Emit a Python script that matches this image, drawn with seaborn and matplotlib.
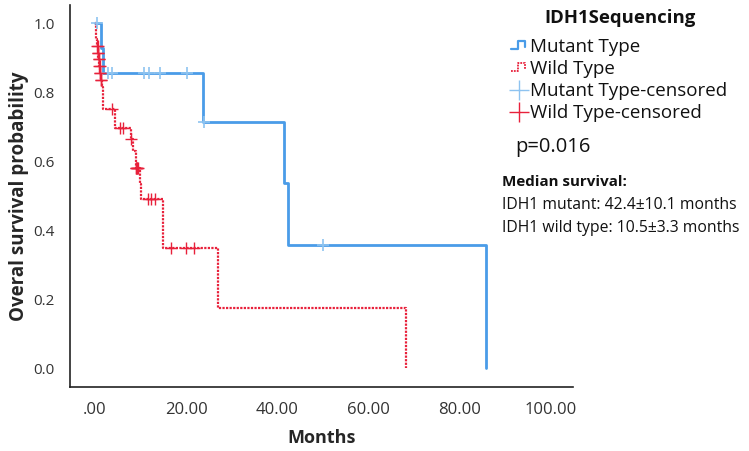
import numpy as np
import pandas as pd
import matplotlib
matplotlib.use("Agg")
import matplotlib.pyplot as plt
import seaborn as sns
from matplotlib.legend_handler import HandlerBase
from matplotlib.lines import Line2D

# ---------------- data ----------------
# Kaplan-Meier step curves (time in months, survival after the step)
mut_time = [0.0, 1.3, 1.8, 23.8, 41.6, 42.3, 85.8]
mut_surv = [1.0, 0.929, 0.857, 0.714, 0.536, 0.357, 0.0]
mut_cens = [0.4, 2.8, 3.7, 10.8, 11.9, 14.3, 20.1, 23.9, 50.0]

wt_time = [0.0, 0.15, 0.3, 0.45, 0.6, 0.75, 0.9, 1.05, 1.25, 1.45, 1.65, 1.85,
           4.4, 7.8, 8.3, 8.9, 9.8, 10.2, 14.9, 27.1, 68.4]
wt_surv = [1.0, 0.975, 0.955, 0.935, 0.915, 0.895, 0.875, 0.855, 0.835, 0.815,
           0.78, 0.75, 0.695, 0.665, 0.63, 0.58, 0.535, 0.49, 0.347, 0.175, 0.0]
wt_cens = [0.5, 0.55, 0.65, 0.7, 0.8, 0.85, 0.95, 1.0, 1.1, 1.2, 1.3, 1.4,
           3.7, 5.5, 6.2, 7.9, 9.0, 9.1, 9.2, 9.3, 9.4,
           11.6, 12.3, 13.2, 16.7, 19.9, 21.8]

x_ticks = [0, 20, 40, 60, 80, 100]
x_tick_labels = [".00", "20.00", "40.00", "60.00", "80.00", "100.00"]
y_ticks = [0.0, 0.2, 0.4, 0.6, 0.8, 1.0]
y_tick_labels = ["0.0", "0.2", "0.4", "0.6", "0.8", "1.0"]

legend_title = "IDH1Sequencing"
labels = ["Mutant Type", "Wild Type", "Mutant Type-censored", "Wild Type-censored"]
p_text = "p=0.016"
median_title = "Median survival:"
median_lines = ["IDH1 mutant: 42.4\u00b110.1 months", "IDH1 wild type: 10.5\u00b13.3 months"]

BLUE = "#4a9ce8"
BLUE_C = "#8ec3f0"
RED = "#e8213b"
RED_C = "#e8213b"

def step_value(times, surv, t):
    idx = np.searchsorted(times, t, side="right") - 1
    return surv[max(idx, 0)]

mut_df = pd.DataFrame({"t": mut_time, "s": mut_surv})
wt_df = pd.DataFrame({"t": wt_time, "s": wt_surv})
mut_c = pd.DataFrame({"t": mut_cens, "s": [step_value(mut_time, mut_surv, t) for t in mut_cens]})
wt_c = pd.DataFrame({"t": wt_cens, "s": [step_value(wt_time, wt_surv, t) for t in wt_cens]})

# ---------------- plot ----------------
sns.set_style("white")
plt.rcParams["font.family"] = ["Open Sans", "DejaVu Sans"]

fig = plt.figure(figsize=(7.49, 4.51), dpi=100)
ax = fig.add_axes([70 / 749, 1 - 387 / 451, 503 / 749, 382 / 451])

sns.lineplot(data=mut_df, x="t", y="s", ax=ax, color=BLUE, lw=2.0,
             drawstyle="steps-post", estimator=None, sort=False)
sns.lineplot(data=wt_df, x="t", y="s", ax=ax, color=RED, lw=1.6,
             drawstyle="steps-post", estimator=None, sort=False, linestyle=(0, (1, 0.6)))
sns.scatterplot(data=mut_c, x="t", y="s", ax=ax, marker="+", s=70, color=BLUE_C,
                linewidth=1.2, zorder=5)
sns.scatterplot(data=wt_c, x="t", y="s", ax=ax, marker="+", s=80, color=RED_C,
                linewidth=1.0, zorder=5)

ax.set_xlim(-5.5, 105)
ax.set_ylim(-0.055, 1.053)
ax.set_xticks(x_ticks)
ax.set_xticklabels(x_tick_labels)
ax.set_yticks(y_ticks)
ax.set_yticklabels(y_tick_labels)
ax.tick_params(axis="both", direction="out", length=6, width=0.8, color="#bbbbbb",
               labelsize=11, labelcolor="#333333", pad=5)
ax.tick_params(axis="x", labelsize=12)
for side in ["top", "right"]:
    ax.spines[side].set_visible(False)
for side in ["left", "bottom"]:
    ax.spines[side].set_color("#222222")
    ax.spines[side].set_linewidth(1.2)
ax.set_xlabel("Months", fontsize=13, fontweight="bold", labelpad=8)
ax.set_ylabel("Overal survival probability", fontsize=13.5, fontweight="bold", labelpad=3)
ax.grid(False)


class StepHandler(HandlerBase):
    def __init__(self, color, ls, lw):
        super().__init__()
        self.color, self.ls, self.lw = color, ls, lw

    def create_artists(self, legend, orig_handle, xdescent, ydescent, width, height,
                       fontsize, trans):
        x0, y0 = -xdescent, -ydescent
        xs = [x0, x0 + 0.45 * width, x0 + 0.45 * width, x0 + 0.9 * width, x0 + 0.9 * width]
        ys = [y0 + 0.25 * height, y0 + 0.25 * height, y0 + 0.85 * height, y0 + 0.85 * height,
              y0 + 0.45 * height]
        ln = Line2D(xs, ys, color=self.color, linestyle=self.ls, lw=self.lw, transform=trans)
        return [ln]


h_mut = Line2D([], [], color=BLUE)
h_wt = Line2D([], [], color=RED)
h_mc = Line2D([], [], color=BLUE_C, marker="+", ls="none", markersize=14, mew=1.0)
h_wc = Line2D([], [], color=RED_C, marker="+", ls="none", markersize=14, mew=1.0)

fig.text(620 / 749, 1 - 18 / 451, legend_title, fontsize=13.3, fontweight="bold",
         ha="center", va="center", color="#111111")

leg = fig.legend([h_mut, h_wt, h_mc, h_wc], labels,
                 loc="upper left", bbox_to_anchor=(511 / 749, 1 - 38.5 / 451),
                 frameon=False, fontsize=13.5,
                 handlelength=0.85, handletextpad=0.15, labelspacing=0.21,
                 borderpad=0.0, borderaxespad=0.0,
                 handler_map={h_mut: StepHandler(BLUE, "-", 1.6),
                              h_wt: StepHandler(RED, (0, (1, 0.6)), 1.3)})
for t in leg.get_texts():
    t.set_color("#111111")

fig.text(515 / 749, 1 - 147 / 451, p_text, fontsize=14.5, va="center", ha="left", color="#111111")
fig.text(502 / 749, 1 - 182 / 451, median_title, fontsize=10.9, va="center", ha="left",
         fontweight="bold", color="#111111")
fig.text(502 / 749, 1 - 205 / 451, median_lines[0], fontsize=11.3, va="center", ha="left",
         color="#111111")
fig.text(502 / 749, 1 - 228 / 451, median_lines[1], fontsize=11.3, va="center", ha="left",
         color="#111111")

fig.savefig("out.png", dpi=100)
